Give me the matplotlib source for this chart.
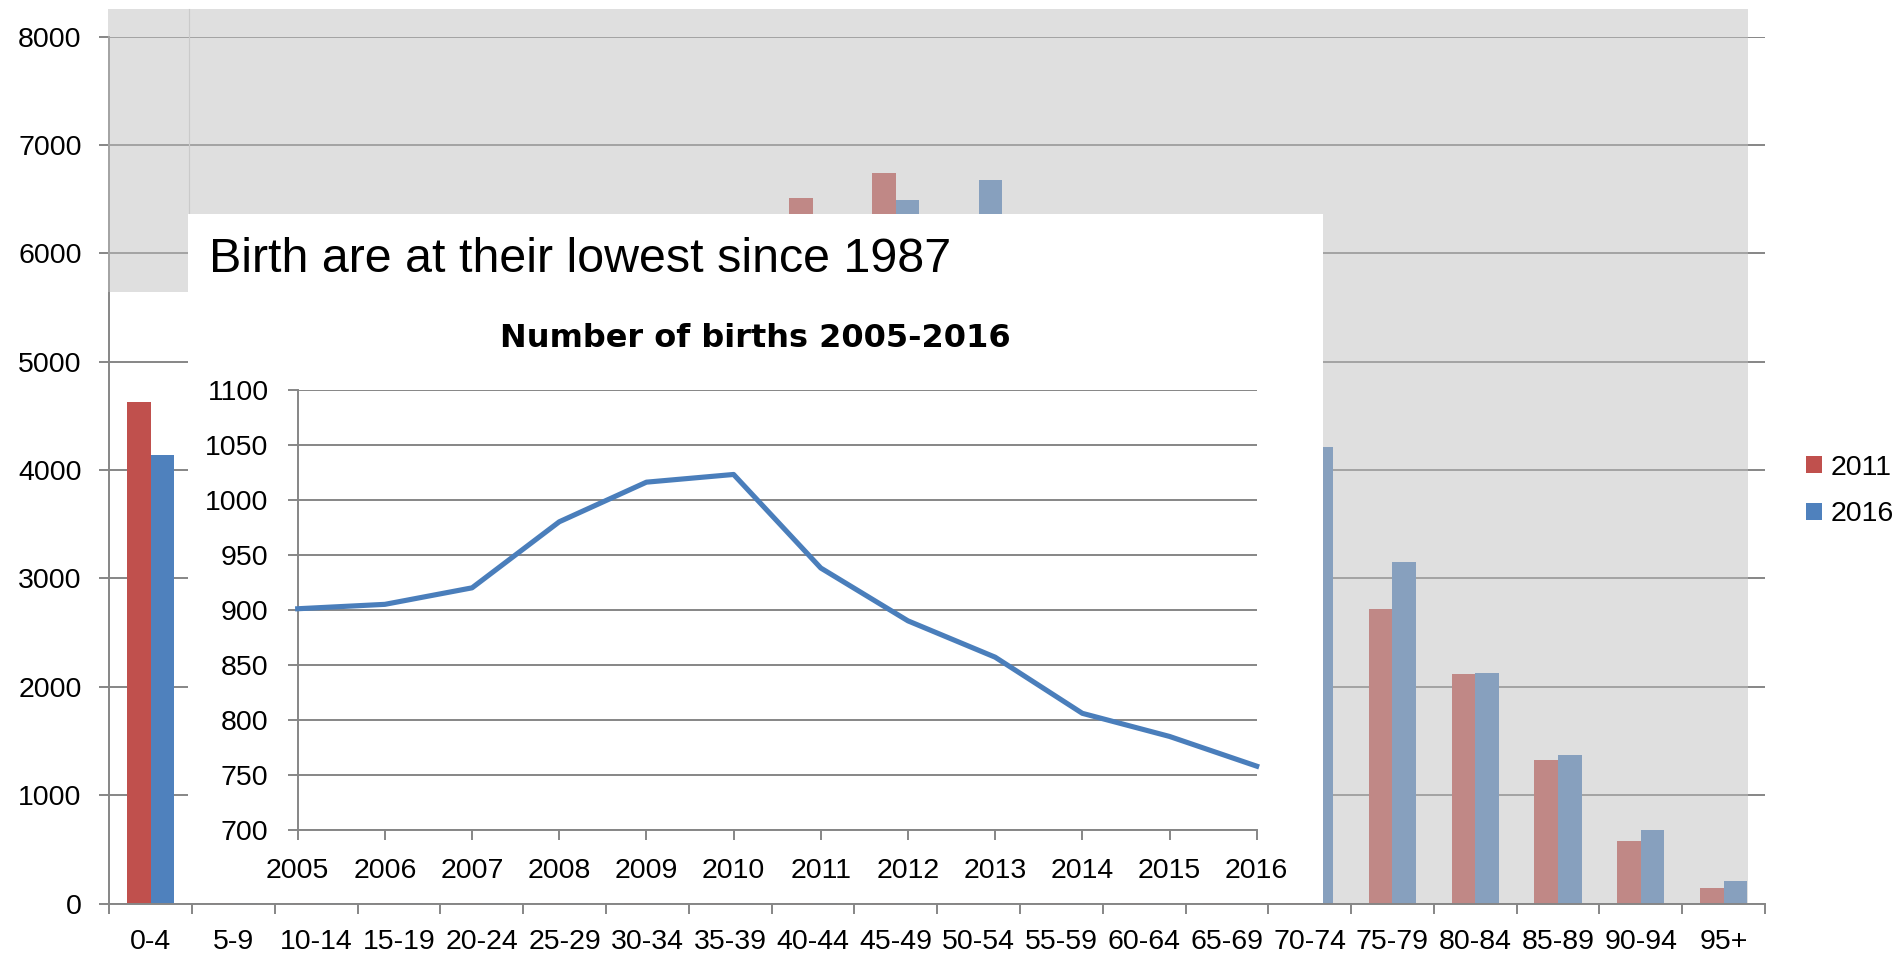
import numpy as np
import matplotlib
matplotlib.use("Agg")
import matplotlib.pyplot as plt
from matplotlib.patches import Rectangle
from matplotlib.lines import Line2D

plt.rcParams['font.family'] = ['Liberation Sans', 'DejaVu Sans']

# population by age group (bars behind the inset are estimates, they are hidden)
age_groups = ['0-4', '5-9', '10-14', '15-19', '20-24', '25-29', '30-34', '35-39',
              '40-44', '45-49', '50-54', '55-59', '60-64', '65-69', '70-74',
              '75-79', '80-84', '85-89', '90-94', '95+']
pop_2011 = [4630, 4450, 4700, 5100, 4800, 4400, 4500, 5200, 6510, 6740,
            6200, 5800, 5500, 5000, 3900, 2720, 2120, 1320, 580, 140]
pop_2016 = [4140, 4600, 4450, 4700, 4700, 4350, 4400, 4500, 5300, 6490,
            6680, 6150, 5700, 5400, 4210, 3150, 2125, 1375, 675, 205]

# births per year (inset)
years = [2005, 2006, 2007, 2008, 2009, 2010, 2011, 2012, 2013, 2014, 2015, 2016]
births = [901, 905, 920, 980, 1016, 1023, 938, 890, 857, 806, 785, 758]

W, H = 1901, 957
grid_col = '#868686'


def rect(x0, y0, x1, y1):
    # pixel box (from top-left) -> figure fraction
    return [x0 / W, 1 - y1 / H, (x1 - x0) / W, (y1 - y0) / H]


fig = plt.figure(figsize=(W / 100, H / 100), dpi=100)
fig.patch.set_facecolor('white')

# main bar chart
ax = fig.add_axes(rect(109.3, 36.7, 1765, 903.5), zorder=0)
xs = np.arange(len(age_groups))
bw = 0.285
ax.bar(xs - bw / 2, pop_2011, bw, color='#C0504D', label='2011', zorder=2)
ax.bar(xs + bw / 2, pop_2016, bw, color='#4F81BD', label='2016', zorder=2)
ax.set_xlim(-0.5, len(age_groups) - 0.5)
ax.set_ylim(0, 8000)
ax.set_yticks(range(0, 8001, 1000))
ax.yaxis.grid(True, color=grid_col, lw=1.4)
ax.set_axisbelow(True)
for s in ['top', 'right']:
    ax.spines[s].set_visible(False)
for s in ['left', 'bottom']:
    ax.spines[s].set_color(grid_col)
    ax.spines[s].set_linewidth(1.4)
ax.set_xticks(np.arange(-0.5, len(age_groups), 1))
ax.set_xticklabels([])
ax.set_xticks(xs, minor=True)
ax.set_xticklabels(age_groups, minor=True)
ax.tick_params(axis='y', direction='out', length=7, width=1.4, color=grid_col,
               pad=13, labelsize=20.5)
ax.tick_params(axis='x', which='major', direction='out', length=7, width=1.4,
               color=grid_col)
ax.tick_params(axis='x', which='minor', length=0, pad=18.5, labelsize=20.5)
ax.legend(loc='center left', bbox_to_anchor=(1806 / W, 1 - 491 / H),
          bbox_transform=fig.transFigure, frameon=False, fontsize=20.5,
          handlelength=0.55, handleheight=0.55, handletextpad=0.3,
          labelspacing=0.72, borderpad=0, borderaxespad=0)

# faded grey overlay over the bar chart
ov = dict(facecolor='#C0C0C0', alpha=0.5, edgecolor='none',
          transform=fig.transFigure, zorder=1)
for box in [(107.5, 9, 1747.7, 214), (107.5, 214, 188.3, 291.7),
            (1322.7, 214, 1747.7, 903)]:
    r = rect(*box)
    fig.add_artist(Rectangle((r[0], r[1]), r[2], r[3], **ov))
fig.add_artist(Line2D([188.5 / W] * 2, [1 - 9 / H, 1 - 214 / H],
                      transform=fig.transFigure, color='#cacaca', lw=0.8, zorder=1.2))

# white inset box
r = rect(188.3, 214, 1322.7, 903.0)
fig.add_artist(Rectangle((r[0], r[1]), r[2], r[3], facecolor='white',
                         edgecolor='none', transform=fig.transFigure, zorder=2))

fig.text(209.3 / W, 1 - 271.7 / H, 'Birth are at their lowest since 1987',
         fontsize=34.8, ha='left', va='baseline', zorder=5)
fig.text(755 / W, 1 - 347.3 / H, 'Number of births 2005-2016', fontsize=23,
         fontweight='bold', family='DejaVu Sans', ha='center', va='baseline', zorder=5)

# inset line chart
ins = fig.add_axes(rect(297.7, 389.7, 1256.7, 830), zorder=3)
ins.set_facecolor('white')
ins.plot(years, births, color='#4A7EBB', lw=3.7, clip_on=False, zorder=3)
ins.set_xlim(2005, 2016)
ins.set_ylim(700, 1100)
ins.set_xticks(years)
ins.set_xticklabels([str(y) for y in years])
ins.set_yticks(range(700, 1101, 50))
ins.yaxis.grid(True, color=grid_col, lw=1.4)
ins.set_axisbelow(True)
for s in ['top', 'right']:
    ins.spines[s].set_visible(False)
for s in ['left', 'bottom']:
    ins.spines[s].set_color(grid_col)
    ins.spines[s].set_linewidth(1.4)
ins.tick_params(axis='both', direction='out', length=7, width=1.4, color=grid_col,
                labelsize=20.5)
ins.tick_params(axis='y', pad=14)
ins.tick_params(axis='x', pad=13.5)

fig.savefig('out.png', dpi=100)
